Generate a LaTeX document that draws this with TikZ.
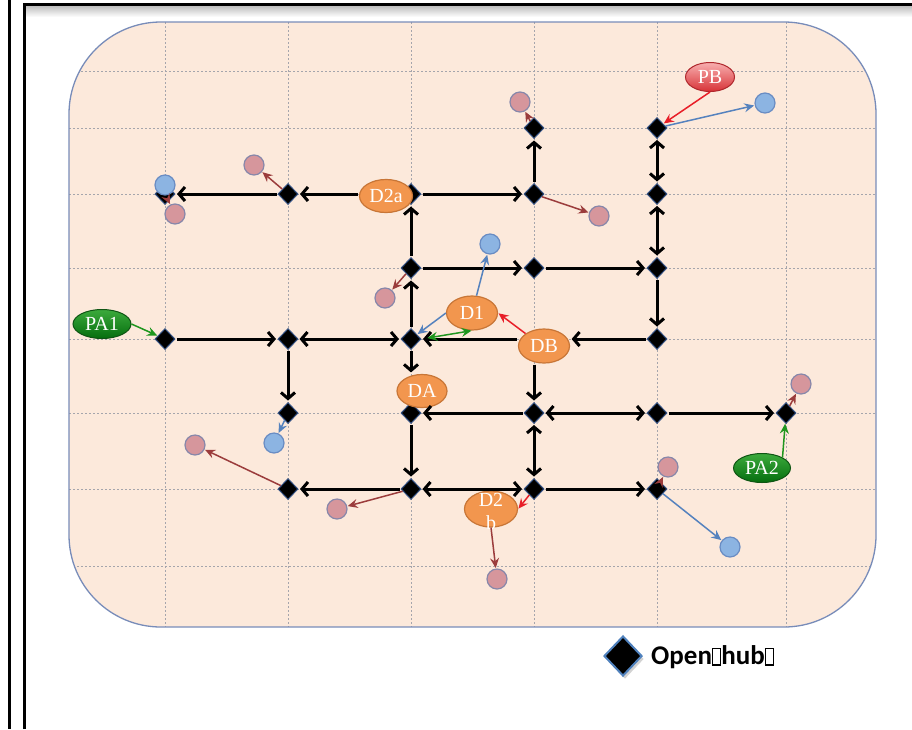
\documentclass[tikz,border=0pt]{standalone}
\usepackage{fontspec}
\newfontfamily\serifl{Liberation Serif}
\newfontfamily\legendfont{Carlito}
\usetikzlibrary{shapes.geometric,arrows.meta,shadows}

\definecolor{peach}{RGB}{252,233,219}
\definecolor{rimblue}{RGB}{120,140,185}
\definecolor{gridgray}{RGB}{165,165,172}
\definecolor{hubrim}{RGB}{50,80,130}
\definecolor{brownarrow}{RGB}{155,60,60}
\definecolor{bluearrow}{RGB}{85,130,190}
\definecolor{redarrow}{RGB}{232,30,40}
\definecolor{greenarrow}{RGB}{30,150,30}
\definecolor{pinkfill}{RGB}{214,150,156}
\definecolor{pinkrim}{RGB}{135,135,170}
\definecolor{bluefill}{RGB}{140,180,226}
\definecolor{bluerim}{RGB}{105,140,195}
\definecolor{orangefill}{RGB}{242,150,78}
\definecolor{orangerim}{RGB}{200,118,55}
\definecolor{greenhi}{RGB}{60,170,60}
\definecolor{greenlo}{RGB}{5,110,15}
\definecolor{greenrim}{RGB}{15,85,20}
\definecolor{redhi}{RGB}{248,175,175}
\definecolor{redlo}{RGB}{215,50,55}
\definecolor{redrim}{RGB}{175,40,45}
\definecolor{legendblue}{RGB}{79,129,189}

% box drawn where the font had no glyph
\newcommand{\tofuglyph}{{\setlength{\fboxsep}{0pt}\setlength{\fboxrule}{1.2pt}\fbox{\rule{0pt}{15pt}\hspace{7pt}}}}

\begin{document}
\begin{tikzpicture}[x=1pt,y=-1pt,
  hub/.style={diamond,fill=black,draw=hubrim,line width=1pt,inner sep=0pt,minimum width=20pt,minimum height=21pt},
  link/.style={line width=3pt,-{Straight Barb[length=6pt,width=14pt]},shorten >=1.5pt,shorten <=1pt},
  twoway/.style={link,{Straight Barb[length=6pt,width=14pt]}-{Straight Barb[length=6pt,width=14pt]}},
  thinarrow/.style={line width=1.5pt,-{Stealth[length=10pt,width=9pt,inset=3.5pt]},shorten >=0.5pt},
  brownarr/.style={thinarrow,draw=brownarrow},
  bluearr/.style={thinarrow,draw=bluearrow},
  redarr/.style={thinarrow,draw=redarrow},
  greenarr/.style={thinarrow,draw=greenarrow},
  pinkdot/.style={circle,fill=pinkfill,draw=pinkrim,line width=1.2pt,minimum size=20pt,inner sep=0pt},
  bluedot/.style={circle,fill=bluefill,draw=bluerim,line width=1.2pt,minimum size=20pt,inner sep=0pt},
  labelfont/.style={text=white,font=\serifl\fontsize{20}{23}\selectfont},
  dnode/.style={ellipse,fill=orangefill,draw=orangerim,line width=1.2pt,inner sep=0pt,labelfont},
  pagreen/.style={ellipse,top color=greenhi,bottom color=greenlo,draw=greenrim,line width=1pt,inner sep=0pt,labelfont,minimum width=58pt,minimum height=29pt},
  pbred/.style={ellipse,top color=redhi,bottom color=redlo,draw=redrim,line width=1pt,inner sep=0pt,labelfont,minimum width=49pt,minimum height=29pt}
]
\useasboundingbox (0,0) rectangle (912,729);
\fill[white] (0,0) rectangle (912,729);

% outer frame
\shade[top color=gray!50,bottom color=white] (25.5,6) rectangle (912,17);
\draw[line width=3pt] (9,0) -- (9,729);
\draw[line width=3pt] (24,729) -- (24,4.5) -- (912,4.5);

% city area with street grid
\begin{scope}
  \clip[rounded corners=92pt] (69,22) rectangle (876,627);
  \fill[peach] (69,22) rectangle (876,627);
  \foreach \gx in {165,288,411,534,657,786}
    \draw[gridgray,line width=0.9pt,dash pattern=on 2pt off 2pt] (\gx,22) -- (\gx,627);
  \foreach \gy in {71,128,194,268,339,413,489,566}
    \draw[gridgray,line width=0.9pt,dash pattern=on 2pt off 2pt] (69,\gy) -- (876,\gy);
\end{scope}
\draw[rimblue,line width=1.3pt,rounded corners=92pt] (69,22) rectangle (876,627);

% hubs
\node[hub] (hD1) at (534,128) {};
\node[hub] (hE1) at (657,128) {};
\node[hub] (hA2) at (165,194) {};
\node[hub] (hB2) at (288,194) {};
\node[hub] (hC2) at (411,194) {};
\node[hub] (hD2) at (534,194) {};
\node[hub] (hE2) at (657,194) {};
\node[hub] (hC3) at (411,268) {};
\node[hub] (hD3) at (534,268) {};
\node[hub] (hE3) at (657,268) {};
\node[hub] (hA4) at (165,339) {};
\node[hub] (hB4) at (288,339) {};
\node[hub] (hC4) at (411,339) {};
\node[hub] (hE4) at (657,339) {};
\node[hub] (hB5) at (288,413) {};
\node[hub] (hC5) at (411,413) {};
\node[hub] (hD5) at (534,413) {};
\node[hub] (hE5) at (657,413) {};
\node[hub] (hF5) at (786,413) {};
\node[hub] (hB6) at (288,489) {};
\node[hub] (hC6) at (411,489) {};
\node[hub] (hD6) at (534,489) {};
\node[hub] (hE6) at (657,489) {};

% depots and sources
\node[dnode,minimum width=53pt,minimum height=33pt] (eD2a) at (386,196) {D2a};
\node[dnode,minimum width=51pt,minimum height=34pt] (eD1) at (472,313) {D1};
\node[dnode,minimum width=51pt,minimum height=34pt] (eDB) at (544,346) {DB};
\node[dnode,minimum width=50pt,minimum height=33pt] (eDA) at (422,391) {DA};
\node[dnode,minimum width=53pt,minimum height=36pt] (eD2b) at (491,509) {};
\node[labelfont,align=center,inner sep=0pt] (eD2btext) at (491,511) {D2\\b};
\node[pbred] (ePB) at (710,77) {PB};
\node[pagreen] (ePA1) at (102,324) {PA1};
\node[pagreen,minimum width=57pt] (ePA2) at (762,468) {PA2};

% customers
\node[bluedot] (bA) at (165,185) {};
\node[pinkdot] (pA) at (175,214) {};
\node[pinkdot] (pB) at (254,165) {};
\node[pinkdot] (pC) at (520,102) {};
\node[pinkdot] (pD) at (599,216) {};
\node[pinkdot] (pE) at (385,298) {};
\node[pinkdot] (pF) at (195,445) {};
\node[pinkdot] (pG) at (337,509) {};
\node[pinkdot] (pH) at (497,579) {};
\node[pinkdot] (pI) at (668,467) {};
\node[pinkdot] (pJ) at (801,384) {};
\node[bluedot] (bB) at (765,103) {};
\node[bluedot] (bC) at (490,244) {};
\node[bluedot] (bD) at (274,443) {};
\node[bluedot] (bE) at (730,547) {};

% street links
\draw[link] (hB2) -- (hA2);
\draw[link] (eD2a.west |- hB2) -- (hB2);
\draw[link] (hC2) -- (hD2);
\draw[link] (hD2) -- (hD1);
\draw[twoway] (hE1) -- (hE2);
\draw[twoway] (hE2) -- (hE3);
\draw[link] (hC3) -- (hC2);
\draw[link] (hC4) -- (hC3);
\draw[link] (hC3) -- (hD3);
\draw[link] (hD3) -- (hE3);
\draw[link] (hE3) -- (hE4);
\draw[link] (hE4) -- (hE4 -| eDB.east);
\draw[link] (hC4 -| eDB.west) -- (hC4);
\draw[twoway] (hB4) -- (hC4);
\draw[link] (hA4) -- (hB4);
\draw[link] (hB4) -- (hB5);
\draw[link] (hC4) -- (hC4 |- eDA.north);
\draw[link] (hD5) -- (hC5);
\draw[twoway] (hD5) -- (hE5);
\draw[link] (hE5) -- (hF5);
\draw[link] (eDB.south -| hD5) -- (hD5);
\draw[twoway] (hD5) -- (hD6);
\draw[link] (hC5) -- (hC6);
\draw[link] (hC6) -- (hB6);
\draw[twoway] (hC6) -- (hD6);
\draw[link] (hD6) -- (hE6);

% deliveries and pick-ups
\draw[brownarr] (hA2) -- (pA);
\draw[brownarr] (hB2) -- (pB);
\draw[brownarr] (hD1) -- (pC);
\draw[brownarr] (hD2) -- (pD);
\draw[brownarr] (hC3) -- (pE);
\draw[brownarr] (hB6) -- (pF);
\draw[brownarr] (hC6) -- (pG);
\draw[brownarr] (eD2b.south) -- (pH);
\draw[brownarr] (hE6) -- (pI);
\draw[brownarr] (hF5) -- (pJ);
\draw[bluearr] (hE1) -- (bB);
\draw[bluearr] (eD1) -- (bC);
\draw[bluearr] (hB5) -- (bD);
\draw[bluearr] (hE6) -- (bE);
\draw[bluearr] (eD1.west) -- (hC4);
\draw[redarr] (ePB.south) -- (hE1);
\draw[redarr] (eDB.north west) -- (eD1.east);
\draw[redarr] (hD6) -- (eD2b.east);
\draw[greenarr] (ePA1.east) -- (hA4);
\draw[greenarr] (ePA2.north east) -- (hF5);
\draw[greenarr,{Stealth[length=10pt,width=9pt,inset=3.5pt]}-{Stealth[length=10pt,width=9pt,inset=3.5pt]},shorten <=6pt] (hC4.east) -- (eD1.south);

% legend
\node[diamond,fill=black,draw=legendblue,line width=2pt,inner sep=0pt,minimum width=38pt,minimum height=40pt,drop shadow={opacity=0.35,shadow xshift=2pt,shadow yshift=-3pt}] (legendhub) at (623,656) {};
\node[anchor=west,inner sep=0pt,font=\legendfont\bfseries\fontsize{27}{27}\selectfont] (legendtext) at (651,657) {Open\tofuglyph{}hub\tofuglyph};
\end{tikzpicture}
\end{document}
